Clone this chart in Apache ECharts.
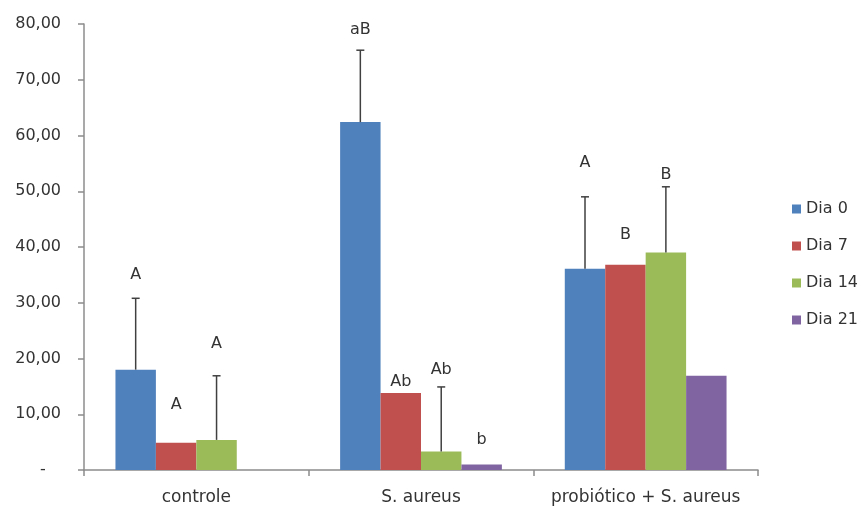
<!DOCTYPE html>
<html>
<head>
<meta charset="utf-8">
<script src="https://cdn.jsdelivr.net/npm/echarts@6/dist/echarts.min.js"></script>
<style>html,body{margin:0;padding:0;background:#fff}#c{width:861px;height:506px}</style>
</head>
<body>
<div id="c"></div>
<script>
var categories = ['controle', 'S. aureus', 'probiótico + S. aureus'];
var seriesNames = ['Dia 0', 'Dia 7', 'Dia 14', 'Dia 21'];
var dia0 = [18.0, 62.4, 36.1];
var dia7 = [4.9, 13.8, 36.8];
var dia14 = [5.4, 3.3, 39.0];
var dia21 = [null, 1.0, 16.9];
var err0 = [12.8, 12.9, 12.9];
var err7 = [null, null, null];
var err14 = [11.5, 11.6, 11.8];
var err21 = [null, null, null];
var letters0 = ['A', 'aB', 'A'];
var letters7 = ['A', 'Ab', 'B'];
var letters14 = ['A', 'Ab', 'B'];
var letters21 = ['', 'b', ''];
var letterAt0 = [35.0, 78.9, 55.1];
var letterAt7 = [11.7, 15.8, 42.2];
var letterAt14 = [22.6, 17.9, 52.9];
var letterAt21 = [null, 5.4, null];
var yTicks = [0, 10, 20, 30, 40, 50, 60, 70, 80];

var colors = ['#4F81BD', '#C0504D', '#9BBB59', '#8064A2'];
var values = [dia0, dia7, dia14, dia21];
var errs = [err0, err7, err14, err21];
var letters = [letters0, letters7, letters14, letters21];
var letterAt = [letterAt0, letterAt7, letterAt14, letterAt21];
var GAP = 0.28;
var FONT = 'DejaVu Sans';
var TXT = '#333333';

var extraData = [];
for (var s = 0; s < 4; s++) {
  for (var c = 0; c < categories.length; c++) {
    var v = values[s][c];
    var e = errs[s][c];
    extraData.push([c, s, v == null ? 0 : v, e == null ? null : v + e, letters[s][c], letterAt[s][c]]);
  }
}

var series = values.map(function (d, i) {
  return {
    name: seriesNames[i], type: 'bar', data: d,
    barGap: 0, barCategoryGap: (GAP * 100) + '%',
    itemStyle: { color: colors[i] }, z: 2
  };
});

series.push({
  type: 'custom', name: 'extras', z: 5, silent: true,
  data: extraData,
  encode: { x: 0, y: 2 },
  renderItem: function (params, api) {
    var cat = api.value(0), s = api.value(1), v = api.value(2);
    var top = api.value(3), txt = api.value(4), at = api.value(5);
    var band = api.size([1, 0])[0];
    var bw = band * (1 - GAP) / 4;
    var base = api.coord([cat, v]);
    var x = base[0] + (s - 1.5) * bw;
    var children = [];
    if (top != null && !isNaN(top) && top !== '') {
      var pt = api.coord([cat, top]);
      var st = { stroke: '#404040', lineWidth: 1.5 };
      children.push({ type: 'line', shape: { x1: x, y1: base[1], x2: x, y2: pt[1] }, style: st });
      children.push({ type: 'line', shape: { x1: x - 4, y1: pt[1], x2: x + 4, y2: pt[1] }, style: st });
    }
    if (txt && at != null && !isNaN(at)) {
      var pl = api.coord([cat, at]);
      children.push({ type: 'text', x: x, y: pl[1], style: {
        text: txt, fill: TXT, font: '16px "' + FONT + '"', align: 'center', verticalAlign: 'middle'
      }});
    }
    return { type: 'group', children: children };
  }
});

var chart = echarts.init(document.getElementById('c'), null, { renderer: 'canvas' });
chart.setOption({
  animation: false,
  backgroundColor: '#fff',
  textStyle: { fontFamily: FONT },
  grid: { left: 84, right: 103, top: 24, bottom: 36, containLabel: false },
  legend: {
    orient: 'vertical', left: 787, top: 196,
    data: seriesNames, itemWidth: 9, itemHeight: 9, itemGap: 21, icon: 'rect',
    textStyle: { fontSize: 16, color: TXT, fontFamily: FONT, padding: [0, 0, 0, 0] }
  },
  xAxis: {
    type: 'category', data: categories,
    axisLine: { lineStyle: { color: '#8c8c8c', width: 1.5 } },
    axisTick: { show: true, length: 6, lineStyle: { color: '#8c8c8c', width: 1.5 } },
    axisLabel: { fontSize: 17, color: TXT, margin: 19, fontFamily: FONT, interval: 0, hideOverlap: false }
  },
  yAxis: {
    type: 'value', min: yTicks[0], max: yTicks[yTicks.length - 1], interval: 10,
    splitLine: { show: false },
    axisLine: { show: true, lineStyle: { color: '#8c8c8c', width: 1.5 } },
    axisTick: { show: true, length: 6, lineStyle: { color: '#8c8c8c', width: 1.5 } },
    axisLabel: {
      fontSize: 16, color: TXT, margin: 23, fontFamily: FONT,
      formatter: function (v) { return v === 0 ? '-   ' : v.toFixed(2).replace('.', ','); }
    }
  },
  series: series
});
</script>
</body>
</html>
